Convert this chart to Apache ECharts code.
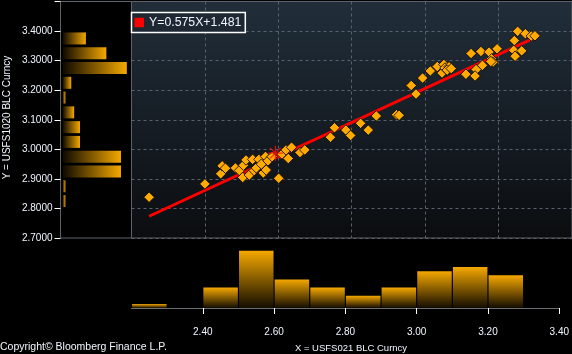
<!DOCTYPE html>
<html><head><meta charset="utf-8">
<script src="https://cdn.jsdelivr.net/npm/echarts@6/dist/echarts.min.js"></script>
<style>html,body{margin:0;padding:0;background:#000;}#c{width:572px;height:354px;}</style>
</head><body><div id="c"></div>
<script>
// ---- data ----
const xValues = [2.248,2.400,2.443,2.447,2.456,2.483,2.494,2.503,2.505,2.512,2.521,2.530,2.534,2.540,2.547,2.554,2.559,2.567,2.565,2.572,2.583,2.601,2.610,2.627,2.621,2.636,2.659,2.672,2.742,2.753,2.784,2.797,2.824,2.845,2.867,2.922,2.929,2.962,2.975,2.993,3.014,3.033,3.046,3.051,3.054,3.065,3.060,3.071,3.111,3.125,3.139,3.136,3.152,3.156,3.174,3.181,3.185,3.179,3.196,3.243,3.252,3.241,3.245,3.263,3.273,3.289,3.299];
const yValues = [2.838,2.883,2.917,2.944,2.936,2.937,2.928,2.905,2.946,2.964,2.913,2.966,2.928,2.937,2.966,2.950,2.920,2.930,2.976,2.961,2.975,2.902,2.984,2.969,2.998,3.007,2.989,2.998,3.041,3.073,3.065,3.047,3.088,3.065,3.113,3.117,3.115,3.216,3.187,3.241,3.265,3.280,3.258,3.287,3.275,3.279,3.268,3.273,3.254,3.324,3.270,3.248,3.331,3.284,3.329,3.306,3.295,3.297,3.340,3.368,3.399,3.335,3.315,3.333,3.391,3.383,3.384];
const currentPoint = [2.592, 2.987];
const slope = 0.575;
const intercept = 1.481;
const yBinLabels = ['2.70','2.75','2.80','2.85','2.90','2.95','3.00','3.05','3.10','3.15','3.20','3.25','3.30','3.35','3.40','3.45'];
const yBinCounts = [0,0,1,1,20,20,6,6,4,1,3,22,15,8,0,0];
const xBinLabels = ['2.20','2.30','2.40','2.50','2.60','2.70','2.80','2.90','3.00','3.10','3.20','3.30'];
const xBinCounts = [1,0,5,14,7,5,3,5,9,10,8,0];
const yTickLabels = [2.7,2.8,2.9,3.0,3.1,3.2,3.3,3.4];
const yTickMarks = [2.7,2.8,2.9,3.0,3.1,3.2,3.3,3.4,3.5];
const xTickLabels = [2.4,2.6,2.8,3.0,3.2,3.4];

// ---- build ----
const font = 'Liberation Sans, Arial, sans-serif';
const txt = '#f2f6ff';
const points = xValues.map((x, i) => [x, yValues[i]]);
const xMin = Math.min(...xValues), xMax = Math.max(...xValues);
const fitName = 'Y=' + slope.toFixed(3) + 'X+' + intercept.toFixed(3);
const fitLine = [[xMin, slope * xMin + intercept], [xMax, slope * xMax + intercept]];
const grad = (x2, y2, c0, c1) => new echarts.graphic.LinearGradient(0, 0, x2, y2, [{offset: 0, color: c0}, {offset: 1, color: c1}]);
const dashed = {show: true, lineStyle: {color: '#59626c', type: [3, 3], width: 1}};

const chart = echarts.init(document.getElementById('c'), null, {renderer: 'canvas'});
chart.setOption({
  animation: false,
  backgroundColor: '#000',
  grid: [
    {left: 131.5, top: 1.5, width: 441.5, height: 236.5, show: true, borderColor: '#5f646b', borderWidth: 1,
     backgroundColor: grad(0, 1, '#212e3a', '#0b0d10')},
    {left: 60.5, top: 1.5, width: 71, height: 236.5, show: true, borderColor: '#5f646b', borderWidth: 1, backgroundColor: '#000'},
    {left: 131.5, top: 238.5, width: 441.5, height: 69.5, show: false}
  ],
  legend: {
    data: [{name: fitName, icon: 'rect', itemStyle: {color: '#ff0000'}}],
    left: 131.5, top: 12.5, padding: [4, 4, 4, 3], itemWidth: 9.5, itemHeight: 9.5,
    borderColor: '#ffffff', borderWidth: 1.5, backgroundColor: '#1d2833', selectedMode: false,
    textStyle: {color: txt, fontSize: 12.3, fontFamily: font}
  },
  xAxis: [
    {type: 'value', gridIndex: 0, min: 2.2, max: 3.4, interval: 0.2, axisLine: {show: false}, axisTick: {show: false}, axisLabel: {show: false}, splitLine: dashed},
    {type: 'value', gridIndex: 1, min: -0.68, max: 23.6, show: false},
    {type: 'category', gridIndex: 2, data: xBinLabels, show: false},
    {type: 'value', gridIndex: 2, min: 2.2, max: 3.4, interval: 0.2, position: 'bottom',
     axisLine: {show: true, lineStyle: {color: '#6a6d72', width: 1}},
     axisTick: {show: true, length: 6, customValues: xTickLabels, lineStyle: {color: '#ffffff', width: 1}},
     axisLabel: {show: true, customValues: xTickLabels, margin: 19, color: txt, fontSize: 10, fontFamily: font, formatter: v => v.toFixed(2)},
     splitLine: {show: false}}
  ],
  yAxis: [
    {type: 'value', gridIndex: 0, min: 2.7, max: 3.5, interval: 0.1, axisLine: {show: false}, axisTick: {show: false}, axisLabel: {show: false}, splitLine: dashed},
    {type: 'category', gridIndex: 1, data: yBinLabels, show: false},
    {type: 'value', gridIndex: 1, min: 2.7, max: 3.5, interval: 0.1, position: 'left',
     axisLine: {show: false},
     axisTick: {show: true, length: 6, customValues: yTickMarks, lineStyle: {color: '#ffffff', width: 1}},
     axisLabel: {show: true, customValues: yTickLabels, margin: 8, color: txt, fontSize: 10, fontFamily: font, formatter: v => v.toFixed(4)},
     splitLine: {show: false}},
    {type: 'value', gridIndex: 2, min: 0, max: 17, show: false}
  ],
  series: [
    {type: 'bar', xAxisIndex: 1, yAxisIndex: 1, data: yBinCounts, barWidth: 12,
     itemStyle: {color: grad(1, 0, '#0c0800', '#f5a800')}},
    {type: 'bar', xAxisIndex: 2, yAxisIndex: 3, data: xBinCounts, barWidth: 34.5,
     itemStyle: {color: grad(0, 1, '#f5a800', '#120c00')}},
    {type: 'line', name: fitName, xAxisIndex: 0, yAxisIndex: 0, data: fitLine, symbol: 'none', z: 3,
     lineStyle: {color: '#ff0000', width: 3}, itemStyle: {color: '#ff0000'}},
    {type: 'scatter', xAxisIndex: 0, yAxisIndex: 0, data: points, symbol: 'diamond', symbolSize: 10.5, z: 4,
     itemStyle: {color: '#ffaa00', borderColor: '#000000', borderWidth: 0.8, opacity: 1}},
    {type: 'scatter', xAxisIndex: 0, yAxisIndex: 0, data: [currentPoint], z: 5,
     symbol: 'path://M0,-10L0,10M-10,0L10,0M-7,-7L7,7M-7,7L7,-7', symbolSize: 15,
     itemStyle: {color: 'rgba(0,0,0,0)', borderColor: '#ff1010', borderWidth: 1.3}}
  ],
  graphic: [
    {type: 'text', x: 7, y: 117.5, rotation: Math.PI / 2,
     style: {text: 'Y = USFS1020 BLC Curncy', fill: txt, font: '10px ' + font, textAlign: 'center', textVerticalAlign: 'middle'}},
    {type: 'text', x: 351, y: 348,
     style: {text: 'X = USFS021 BLC Curncy', fill: txt, font: '9.5px ' + font, textAlign: 'center', textVerticalAlign: 'middle'}},
    {type: 'text', x: 0, y: 347,
     style: {text: 'Copyright\u00a9 Bloomberg Finance L.P.', fill: txt, font: '10.5px ' + font, textAlign: 'left', textVerticalAlign: 'middle'}}
  ]
});
</script></body></html>
